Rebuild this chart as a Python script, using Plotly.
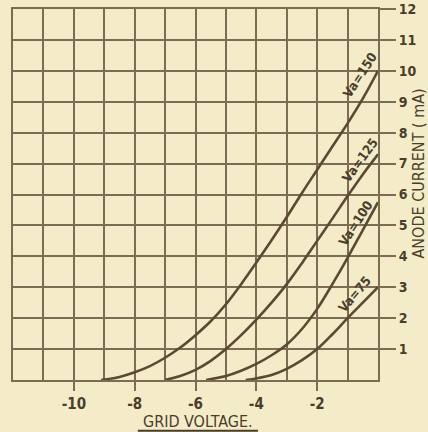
import plotly.graph_objects as go

# Grid voltage (V) / anode current (mA) characteristics for four anode voltages
va150_v = [-9.1, -8.5, -8, -7.5, -7, -6.5, -6, -5.5, -5, -4.5, -4, -3.5,
           -3, -2.5, -2, -1.5, -1, -0.5, 0]
va150_i = [0.0, 0.1, 0.25, 0.45, 0.72, 1.05, 1.45, 1.9, 2.45, 3.1, 3.8, 4.52,
           5.27, 6.05, 6.8, 7.55, 8.3, 9.1, 10.0]

va125_v = [-7.0, -6.5, -6, -5.5, -5, -4.5, -4, -3.5, -3, -2.5, -2, -1.5,
           -1, -0.5, 0]
va125_i = [0.0, 0.13, 0.33, 0.62, 1.0, 1.45, 1.95, 2.5, 3.1, 3.78, 4.5, 5.22,
           5.95, 6.65, 7.3]

va100_v = [-5.65, -5, -4.5, -4, -3.5, -3, -2.5, -2, -1.5, -1, -0.5, 0]
va100_i = [0.0, 0.13, 0.3, 0.52, 0.8, 1.15, 1.65, 2.3, 3.1, 3.95, 4.85, 5.75]

va75_v = [-4.35, -4, -3.5, -3, -2.5, -2, -1.5, -1, -0.5, 0]
va75_i = [0.0, 0.05, 0.16, 0.36, 0.64, 1.0, 1.48, 2.0, 2.5, 3.0]

curve_names = ["Va=150", "Va=125", "Va=100", "Va=75"]

# Label placement (grid volts, mA) and slant of each curve label
label_v = [-0.6, -0.6, -0.73, -0.77]
label_i = [9.85, 7.1, 5.05, 2.75]
label_angle = [-57, -54, -57, -50]

x_tick_vals = [-10, -8, -6, -4, -2]
x_tick_text = ["-10", "-8", "-6", "-4", "-2"]
y_tick_vals = list(range(1, 13))
y_tick_text = [str(v) for v in y_tick_vals]

PAPER = "#f4ecc9"
GRID = "#7b6c53"
INK = "#5a4a34"
TEXT = "#4a3d2a"
HAND = "Liberation Sans Narrow, DejaVu Sans Condensed, Arial Narrow, sans-serif"

fig = go.Figure()
for vs, cs in [(va150_v, va150_i), (va125_v, va125_i),
               (va100_v, va100_i), (va75_v, va75_i)]:
    fig.add_trace(go.Scatter(
        x=vs, y=cs, mode="lines",
        line=dict(color=INK, width=2.6, shape="spline", smoothing=1.0),
        hoverinfo="skip", showlegend=False,
    ))

for name, lv, li, ang in zip(curve_names, label_v, label_i, label_angle):
    fig.add_annotation(
        x=lv, y=li, xref="x", yref="y", text=name, showarrow=False,
        textangle=ang, xanchor="center", yanchor="middle",
        font=dict(family=HAND, size=13, color=TEXT, weight="bold"),
    )

fig.add_annotation(
    x=0.506, y=-0.113, xref="paper", yref="paper", text="GRID VOLTAGE.",
    showarrow=False, xanchor="center", yanchor="middle",
    font=dict(family=HAND, size=16, color=TEXT),
)
fig.add_shape(
    type="line", xref="paper", yref="paper",
    x0=0.342, x1=0.671, y0=-0.137, y1=-0.137,
    line=dict(color=TEXT, width=2),
)
fig.add_annotation(
    x=1.11, y=0.557, xref="paper", yref="paper", text="ANODE CURRENT ( mA)",
    showarrow=False, textangle=-90, xanchor="center", yanchor="middle",
    font=dict(family=HAND, size=16, color=TEXT),
)

fig.update_xaxes(
    range=[-12, 0], tickvals=x_tick_vals, ticktext=x_tick_text,
    ticks="outside", ticklen=9, tickwidth=2, tickcolor=GRID,
    showgrid=True, gridcolor=GRID, gridwidth=2,
    minor=dict(dtick=1, showgrid=True, gridcolor=GRID, gridwidth=2, ticks=""),
    showline=True, mirror=True, linecolor=GRID, linewidth=2,
    zeroline=False, fixedrange=True, automargin=False,
    tickfont=dict(family=HAND, size=15, color=TEXT, weight="bold"),
)
fig.update_yaxes(
    range=[0, 12], side="right", tickvals=y_tick_vals, ticktext=y_tick_text,
    ticks="outside", ticklen=16, tickwidth=1.6, tickcolor=GRID,
    showgrid=True, gridcolor=GRID, gridwidth=2,
    showline=True, mirror=True, linecolor=GRID, linewidth=2,
    zeroline=False, fixedrange=True, automargin=False,
    tickfont=dict(family=HAND, size=14, color=TEXT, weight="bold"),
)

fig.update_layout(
    width=428, height=432,
    margin=dict(l=13, r=50, t=9, b=52),
    paper_bgcolor=PAPER, plot_bgcolor=PAPER,
    showlegend=False,
)

fig.write_html("out.html")
